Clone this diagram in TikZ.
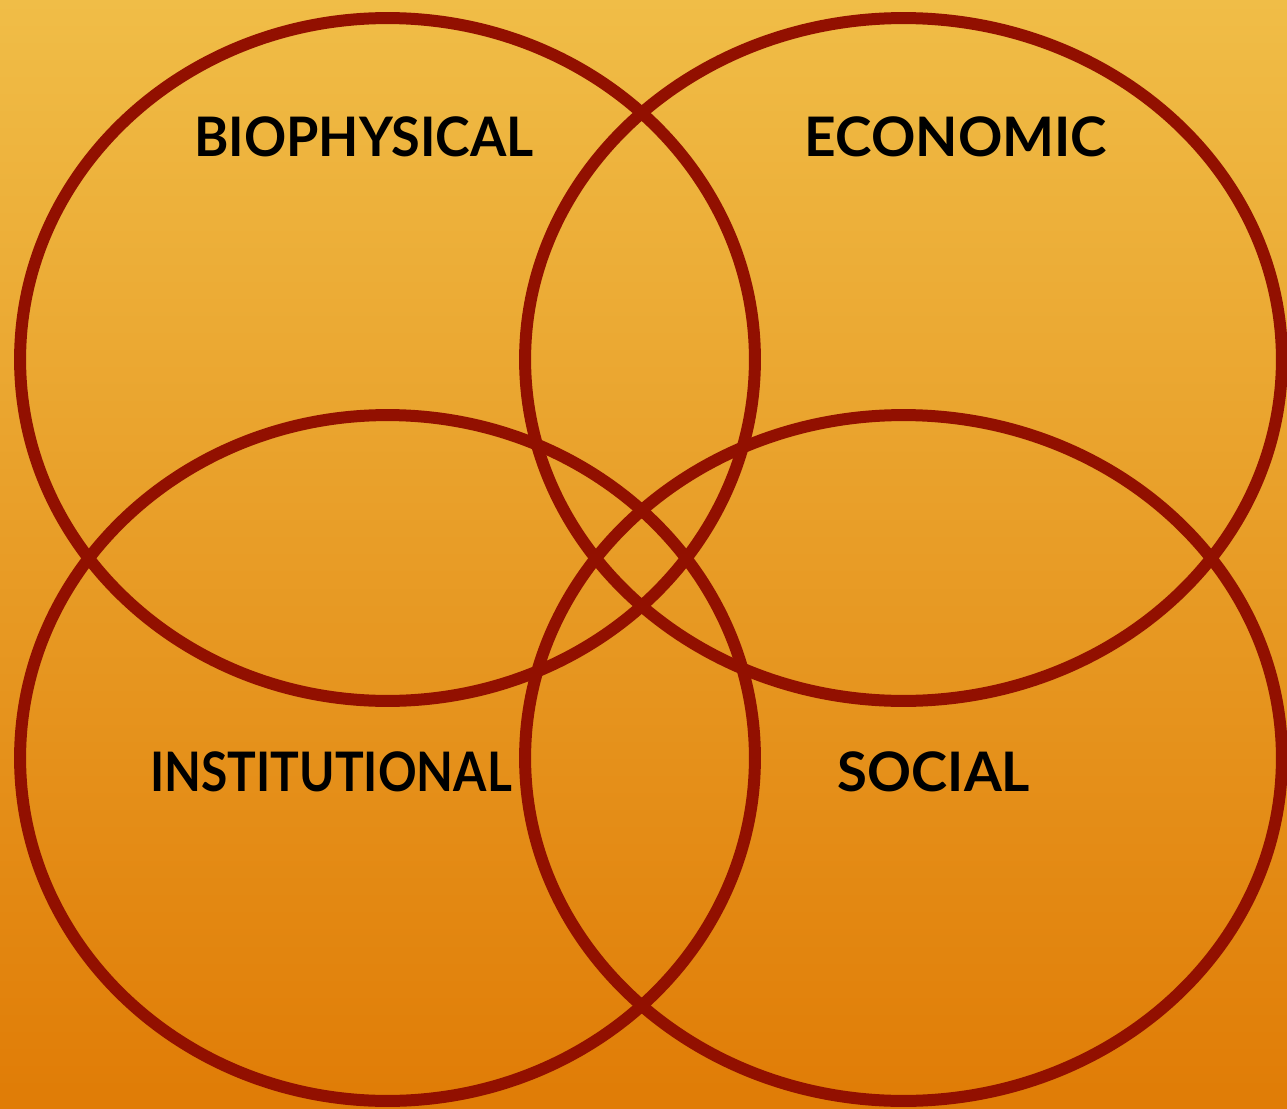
\documentclass[tikz,border=0pt]{standalone}
\usepackage{fontspec}
\setmainfont{Lato}
\definecolor{ringred}{HTML}{921000}
\definecolor{bgtop}{HTML}{F0BD47}
\definecolor{bgbot}{HTML}{E07C06}

\begin{document}
\begin{tikzpicture}[x=0.02cm,y=-0.02cm]
      \tikzset{ring/.style={draw=ringred,line width=0.24cm},
               lbl/.style={font=\fontsize{31}{31}\selectfont\bfseries,text=black}}
      \shade[top color=bgtop,bottom color=bgbot] (0,0) rectangle (1287,1108);
      \useasboundingbox (0,0) rectangle (1287,1108);

      \draw[ring] (387.5,359.5) ellipse [x radius=367.5cm/50,y radius=341.5cm/50];
      \draw[ring] (903.5,359.5) ellipse [x radius=378.5cm/50,y radius=341.5cm/50];
      \draw[ring] (387.5,758) ellipse [x radius=367.5cm/50,y radius=343cm/50];
      \draw[ring] (903.5,758) ellipse [x radius=378.5cm/50,y radius=343cm/50];

      \node[lbl] (bio) at (364,137) {\scalebox{0.96}[1]{BIOPHYSICAL}};
      \node[lbl] (eco) at (956,137) {\scalebox{1.01}[1]{ECONOMIC}};
      \node[lbl] (ins) at (331,772) {\scalebox{0.88}[1]{INSTITUTIONAL}};
      \node[lbl] (soc) at (934,772) {SOCIAL};
    \end{tikzpicture}
\end{document}
